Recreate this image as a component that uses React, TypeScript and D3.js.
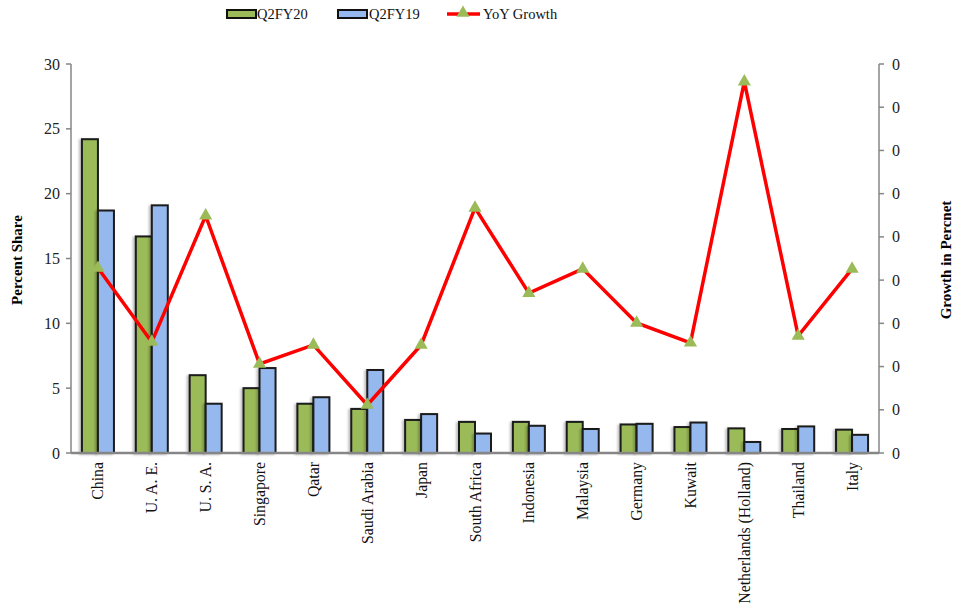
import React, { useEffect, useRef } from 'react';
import * as d3 from 'd3';

const countries = [
  'China', 'U. A. E.', 'U. S. A.', 'Singapore', 'Qatar', 'Saudi Arabia', 'Japan',
  'South Africa', 'Indonesia', 'Malaysia', 'Germany', 'Kuwait', 'Netherlands (Holland)',
  'Thailand', 'Italy',
];
const q2fy20 = [24.2, 16.7, 6.0, 5.0, 3.8, 3.4, 2.55, 2.4, 2.4, 2.4, 2.2, 2.0, 1.9, 1.85, 1.8];
const q2fy19 = [18.7, 19.1, 3.8, 6.55, 4.3, 6.4, 3.0, 1.5, 2.1, 1.85, 2.25, 2.35, 0.85, 2.05, 1.4];
const yoyGrowth = [0.428, 0.257, 0.549, 0.206, 0.25, 0.111, 0.25, 0.567, 0.37, 0.426, 0.301, 0.255, 0.859, 0.271, 0.426];
const leftTicks = [0, 5, 10, 15, 20, 25, 30];
const rightTicks = [0, 0.1, 0.2, 0.3, 0.4, 0.5, 0.6, 0.7, 0.8, 0.9];

const GREEN = '#9BBB59';
const BLUE = '#95B9EE';
const FONT = 'Liberation Serif, DejaVu Serif, serif';

export default function App() {
  const ref = useRef<SVGSVGElement>(null);

  useEffect(() => {
    const svg = d3.select(ref.current);
    svg.selectAll('*').remove();

    const left = 71, right = 879, top = 64, bottom = 453;

    const x = d3.scaleBand().domain(countries).range([left, right]).paddingInner(0).paddingOuter(0);
    const y = d3.scaleLinear().domain([0, 30]).range([bottom, top]);
    const y2 = d3.scaleLinear().domain([0, 0.9]).range([bottom, top]);
    const barW = 16;

    const defs = svg.append('defs');
    const f = defs.append('filter').attr('id', 'shadow').attr('x', '-30%').attr('y', '-10%').attr('width', '160%').attr('height', '120%');
    f.append('feDropShadow').attr('dx', -2).attr('dy', 1).attr('stdDeviation', 1.2).attr('flood-color', '#000').attr('flood-opacity', 0.25);

    // bars
    const bars = svg.append('g');
    countries.forEach((c, i) => {
      const cx = (x(c) || 0) + x.bandwidth() / 2;
      bars.append('rect')
        .attr('x', cx - barW).attr('y', y(q2fy20[i]))
        .attr('width', barW).attr('height', bottom - y(q2fy20[i]))
        .attr('fill', GREEN).attr('stroke', '#1a1a1a').attr('stroke-width', 2)
        .attr('filter', 'url(#shadow)');
      bars.append('rect')
        .attr('x', cx).attr('y', y(q2fy19[i]))
        .attr('width', barW).attr('height', bottom - y(q2fy19[i]))
        .attr('fill', BLUE).attr('stroke', '#1a1a1a').attr('stroke-width', 2)
        .attr('filter', 'url(#shadow)');
    });

    // left axis
    const axisColor = '#868686';
    svg.append('line').attr('x1', left).attr('x2', left).attr('y1', top).attr('y2', bottom)
      .attr('stroke', axisColor).attr('stroke-width', 1.5);
    leftTicks.forEach(t => {
      svg.append('line').attr('x1', left - 5).attr('x2', left).attr('y1', y(t)).attr('y2', y(t))
        .attr('stroke', axisColor).attr('stroke-width', 1.5);
      svg.append('text').attr('x', left - 11).attr('y', y(t)).attr('dy', '0.35em')
        .attr('text-anchor', 'end').style('font-family', FONT).attr('font-size', 16).attr('fill', '#222')
        .text(t);
    });

    // right axis (labels are shown as whole numbers, so they all read 0)
    svg.append('line').attr('x1', right).attr('x2', right).attr('y1', top).attr('y2', bottom)
      .attr('stroke', axisColor).attr('stroke-width', 1.5);
    rightTicks.forEach(t => {
      svg.append('line').attr('x1', right).attr('x2', right + 5).attr('y1', y2(t)).attr('y2', y2(t))
        .attr('stroke', axisColor).attr('stroke-width', 1.5);
      svg.append('text').attr('x', right + 13).attr('y', y2(t)).attr('dy', '0.35em')
        .attr('text-anchor', 'start').style('font-family', FONT).attr('font-size', 16).attr('fill', '#222')
        .text(Math.floor(t));
    });

    // bottom axis line
    svg.append('line').attr('x1', left).attr('x2', right).attr('y1', bottom).attr('y2', bottom)
      .attr('stroke', axisColor).attr('stroke-width', 2.5);

    // category labels
    countries.forEach(c => {
      const cx = (x(c) || 0) + x.bandwidth() / 2;
      svg.append('text')
        .attr('transform', `translate(${cx},462) rotate(-90)`)
        .attr('text-anchor', 'end').attr('dy', '0.35em')
        .style('font-family', FONT).attr('font-size', 15.8).attr('fill', '#111')
        .text(c);
    });

    // growth line
    const pts = countries.map((c, i) => [(x(c) || 0) + x.bandwidth() / 2, y2(yoyGrowth[i])] as [number, number]);
    svg.append('path').datum(pts)
      .attr('d', d3.line())
      .attr('fill', 'none').attr('stroke', '#FF0000').attr('stroke-width', 3.5)
      .attr('stroke-linejoin', 'miter');
    const tri = d3.symbol().type(d3.symbolTriangle).size(75);
    svg.selectAll('.tri').data(pts).enter().append('path')
      .attr('transform', d => `translate(${d[0]},${d[1]})`)
      .attr('d', tri).attr('fill', GREEN);

    // axis titles
    svg.append('text').attr('transform', `translate(22,260) rotate(-90)`)
      .attr('text-anchor', 'middle').style('font-family', FONT).attr('font-size', 15)
      .attr('font-weight', 'bold').text('Percent Share');
    svg.append('text').attr('transform', `translate(951,260) rotate(-90)`)
      .attr('text-anchor', 'middle').style('font-family', FONT).attr('font-size', 15)
      .attr('font-weight', 'bold').text('Growth in Percnet');

    // legend
    const lg = svg.append('g').style('font-family', FONT).attr('font-size', 14.5).attr('fill', '#111');
    lg.append('rect').attr('x', 227).attr('y', 10).attr('width', 29).attr('height', 8)
      .attr('fill', GREEN).attr('stroke', '#111').attr('stroke-width', 2);
    lg.append('text').attr('x', 257).attr('y', 14).attr('dy', '0.35em').text('Q2FY20');
    lg.append('rect').attr('x', 338).attr('y', 10).attr('width', 29).attr('height', 8)
      .attr('fill', BLUE).attr('stroke', '#111').attr('stroke-width', 2);
    lg.append('text').attr('x', 369).attr('y', 14).attr('dy', '0.35em').text('Q2FY19');
    lg.append('line').attr('x1', 447).attr('x2', 480).attr('y1', 14).attr('y2', 14)
      .attr('stroke', '#FF0000').attr('stroke-width', 3.5);
    lg.append('path').attr('transform', 'translate(463,13)').attr('d', tri).attr('fill', GREEN);
    lg.append('text').attr('x', 483).attr('y', 14).attr('dy', '0.35em').text('YoY Growth');
  }, []);

  return (
    <svg ref={ref} width={956} height={611} style={{ position: 'absolute', left: 0, top: 0, background: '#fff' }}
      role="img" aria-label="Bar and line chart of percent share by country with YoY growth" />
  );
}
